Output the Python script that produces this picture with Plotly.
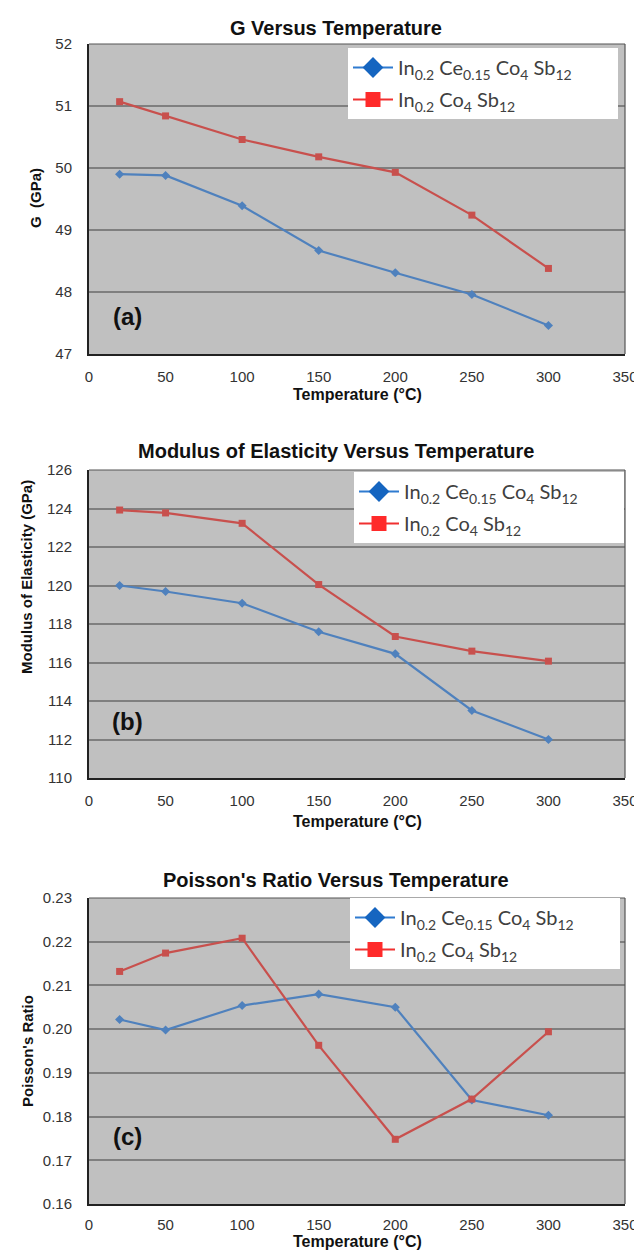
import plotly.graph_objects as go

temps = [20, 50, 100, 150, 200, 250, 300]

g_ce = [49.90, 49.88, 49.39, 48.67, 48.31, 47.96, 47.46]
g_in = [51.07, 50.84, 50.46, 50.18, 49.93, 49.24, 48.38]

e_ce = [120.0, 119.69, 119.08, 117.6, 116.45, 113.51, 112.0]
e_in = [123.92, 123.77, 123.23, 120.05, 117.35, 116.59, 116.07]

p_ce = [0.2022, 0.1998, 0.2054, 0.2080, 0.2050, 0.1838, 0.1803]
p_in = [0.2132, 0.2174, 0.2208, 0.1963, 0.1748, 0.1840, 0.1994]

PAD = "&nbsp;" * 8
name_ce = "In<sub>0.2</sub> Ce<sub>0.15</sub> Co<sub>4</sub> Sb<sub>12</sub>" + PAD
name_in = "In<sub>0.2</sub> Co<sub>4</sub> Sb<sub>12</sub>"

titles = ["G Versus Temperature", "Modulus of Elasticity Versus Temperature",
          "Poisson's Ratio Versus Temperature"]
ytitles = ["G  (GPa)", "Modulus of Elasticity (GPa)", "Poisson's Ratio"]
panels = ["(a)", "(b)", "(c)"]

BLUE = "#4F81BD"
RED = "#C8504D"

W, H = 642, 1250
L, R, T, B = 81, 25, 36, 54
PH = H - T - B


def py(y):
    return 1 - (y - T) / PH


def px(x):
    return (x - L) / (W - L - R)


fig = go.Figure()

series = [(g_ce, g_in), (e_ce, e_in), (p_ce, p_in)]
legends = ["legend", "legend2", "legend3"]
for i, (ce, inn) in enumerate(series):
    xa = "x" if i == 0 else f"x{i+1}"
    ya = "y" if i == 0 else f"y{i+1}"
    fig.add_trace(go.Scatter(x=temps, y=ce, mode="lines+markers", xaxis=xa, yaxis=ya,
                             line=dict(color=BLUE, width=2.2),
                             marker=dict(symbol="diamond", size=7, color=BLUE),
                             showlegend=False))
    fig.add_trace(go.Scatter(x=temps, y=inn, mode="lines+markers", xaxis=xa, yaxis=ya,
                             line=dict(color=RED, width=2.2),
                             marker=dict(symbol="square", size=7, color=RED),
                             showlegend=False))
    # legend entries
    fig.add_trace(go.Scatter(x=[None], y=[None], mode="lines+markers", xaxis=xa, yaxis=ya,
                             name=name_ce, legend=legends[i], legendgroup=f"a{i}",
                             line=dict(color="#2F7BD0", width=2),
                             marker=dict(symbol="diamond", size=16, color="#1565C0")))
    fig.add_trace(go.Scatter(x=[None], y=[None], mode="lines+markers", xaxis=xa, yaxis=ya,
                             name=name_in, legend=legends[i], legendgroup=f"b{i}",
                             line=dict(color="#F03030", width=2),
                             marker=dict(symbol="square", size=15, color="#FF2A2A")))

domains = [[py(346), 1], [py(770), py(462)], [0, py(890)]]
yranges = [[47, 52], [110, 126], [0.16, 0.23]]
ydticks = [1, 2, 0.01]
yfmts = ["", "", ".2f"]
xstandoff = [8, 8, 6]

axis_font = dict(family="Liberation Sans, Arial", size=15, color="#333333")
for i in range(3):
    sfx = "" if i == 0 else str(i + 1)
    fig.layout[f"xaxis{sfx}"] = dict(
        domain=[0, 1], anchor=f"y{sfx}", range=[0, 350], dtick=50, tick0=0,
        showgrid=False, zeroline=False, showline=True, linecolor="#222222", linewidth=2,
        ticks="", ticklabelstandoff=xstandoff[i], tickfont=axis_font)
    fig.layout[f"yaxis{sfx}"] = dict(
        domain=domains[i], anchor=f"x{sfx}", range=yranges[i], dtick=ydticks[i],
        tick0=yranges[i][0], tickformat=yfmts[i],
        showgrid=True, gridcolor="#7F7F7F", gridwidth=1.6, zeroline=False,
        showline=True, linecolor="#222222", linewidth=2,
        ticks="", ticklabelstandoff=12, tickfont=axis_font)
    # top/right borders
    fig.add_shape(type="line", xref=f"x{sfx} domain", yref=f"y{sfx} domain",
                  x0=0, x1=1, y0=1, y1=1, line=dict(color="#555555", width=1.2))
    fig.add_shape(type="line", xref=f"x{sfx} domain", yref=f"y{sfx} domain",
                  x0=1, x1=1, y0=0, y1=1, line=dict(color="#555555", width=1.2))

ann = []
title_y = [20, 443, 872]
xtitle_y = [387, 813, 1234]
ytitle_pos = [(27, 190), (18, 569), (19, 1043)]
panel_y = [308, 713, 1128]
for i in range(3):
    ann.append(dict(text=f"<b>{titles[i]}</b>", x=px(328), y=py(title_y[i]), xref="paper",
                    yref="paper", showarrow=False, xanchor="center", yanchor="middle",
                    font=dict(family="Liberation Sans, Arial", size=20, color="#111111")))
    ann.append(dict(text="<b>Temperature (°C)</b>", x=0.5, y=py(xtitle_y[i]), xref="paper",
                    yref="paper", showarrow=False, xanchor="center", yanchor="middle",
                    font=dict(family="Liberation Sans, Arial", size=16, color="#111111")))
    ann.append(dict(text=f"<b>{ytitles[i]}</b>", x=px(ytitle_pos[i][0]), y=py(ytitle_pos[i][1]),
                    xref="paper", yref="paper", showarrow=False, textangle=-90,
                    xanchor="center", yanchor="middle",
                    font=dict(family="Liberation Sans, Arial", size=15, color="#111111")))
    ann.append(dict(text=f"<b>{panels[i]}</b>", x=px(119), y=py(panel_y[i]), xref="paper",
                    yref="paper", showarrow=False, xanchor="center", yanchor="middle",
                    font=dict(family="Liberation Sans, Arial", size=24, color="#111111")))

leg_common = dict(bgcolor="white", borderwidth=0, xanchor="right", yanchor="top",
                  font=dict(family="Lato, Noto Sans", size=20, color="#404040"),
                  itemwidth=40, traceorder="grouped", tracegroupgap=3)

fig.update_layout(
    width=W, height=H,
    margin=dict(l=L, r=R, t=T, b=B),
    paper_bgcolor="white", plot_bgcolor="#C0C0C0",
    annotations=ann,
    legend=dict(x=px(610), y=py(40), **leg_common),
    legend2=dict(x=px(616), y=py(464), **leg_common),
    legend3=dict(x=px(612), y=py(890), **leg_common),
)

fig.write_html("out.html")
